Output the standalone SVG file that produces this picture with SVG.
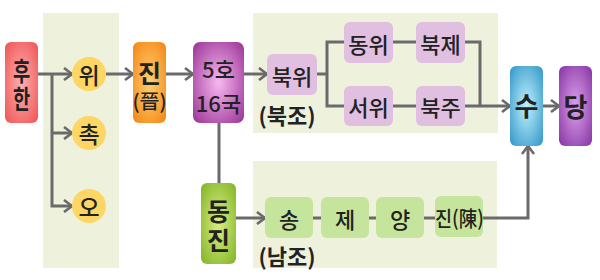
<svg xmlns="http://www.w3.org/2000/svg" width="600" height="280" viewBox="0 0 600 280">
<defs>
<style>
.t{font-family:"Noto Sans CJK KR","Noto Sans",sans-serif;fill:#222;text-anchor:middle;dominant-baseline:central;font-weight:500}
.b{font-weight:bold}
.c{fill:none;stroke:#6a6a6a;stroke-width:3}
.panel{fill:#eef2dc}
.pk{fill:#e0bfe0}
.gr{fill:#c6e59c}
.cir{fill:#fdd663}
</style>
<radialGradient id="gRed" cx="50%" cy="50%" r="65%"><stop offset="0" stop-color="#ffb0b0"/><stop offset="1" stop-color="#f05a5a"/></radialGradient>
<radialGradient id="gOr" cx="50%" cy="50%" r="65%"><stop offset="0" stop-color="#ffd070"/><stop offset="1" stop-color="#f58a1a"/></radialGradient>
<radialGradient id="gPu" cx="50%" cy="50%" r="65%"><stop offset="0" stop-color="#f8b8f0"/><stop offset="1" stop-color="#a03c9c"/></radialGradient>
<radialGradient id="gGr" cx="50%" cy="50%" r="65%"><stop offset="0" stop-color="#d8ee80"/><stop offset="1" stop-color="#88b82c"/></radialGradient>
<radialGradient id="gBl" cx="50%" cy="50%" r="65%"><stop offset="0" stop-color="#c0f0fc"/><stop offset="1" stop-color="#3a9ccc"/></radialGradient>
<radialGradient id="gVi" cx="50%" cy="50%" r="65%"><stop offset="0" stop-color="#dca0ec"/><stop offset="1" stop-color="#8c3ca8"/></radialGradient>
<marker id="ar" viewBox="0 0 10 14" refX="9" refY="7" markerWidth="10" markerHeight="14" markerUnits="userSpaceOnUse" orient="auto">
<path d="M1,1 L9,7 L1,13" fill="none" stroke="#6a6a6a" stroke-width="2.6"/>
</marker>
</defs>
<rect width="600" height="280" fill="#fff"/>
<g id="panels">
<rect class="panel" x="43" y="13" width="76" height="255"/>
<rect class="panel" x="253" y="13" width="245" height="120"/>
<rect class="panel" x="253" y="161" width="244" height="107"/>
</g>
<g id="connectors">
<path class="c" d="M38,74 H72" marker-end="url(#ar)"/>
<path class="c" d="M52,74 V206 H72" marker-end="url(#ar)"/>
<path class="c" d="M52,133 H72" marker-end="url(#ar)"/>
<path class="c" d="M106,74 H133" marker-end="url(#ar)"/>
<path class="c" d="M166,74 H193" marker-end="url(#ar)"/>
<path class="c" d="M244,74 H267" marker-end="url(#ar)"/>
<path class="c" d="M219,123 V183"/>
<path class="c" d="M236,218 H265" marker-end="url(#ar)"/>
<path class="c" d="M313,218 H321 M369,218 H376 M424,218 H435"/>
<path class="c" d="M483,218 H528 V146" marker-end="url(#ar)"/>
<path class="c" d="M317,74 H327 M344,42 H327 V106 H344"/>
<path class="c" d="M393,42 H416 M393,106 H416"/>
<path class="c" d="M465,42 H480 V106"/>
<path class="c" d="M465,106 H510" marker-end="url(#ar)"/>
<path class="c" d="M543,106 H559" marker-end="url(#ar)"/>
</g>
<g id="n-huhan"><rect x="5" y="42" width="33" height="81" rx="6" fill="url(#gRed)"/>
<text class="t b" transform="translate(21.5,0) scale(0.72,1)" font-size="26"><tspan x="0" y="70">후</tspan><tspan x="0" y="97.5">한</tspan></text></g>
<g id="n-wi"><circle class="cir" cx="89" cy="74" r="17"/><text class="t" x="89" y="74" font-size="23">위</text></g>
<g id="n-chok"><circle class="cir" cx="89" cy="133" r="17"/><text class="t" x="89" y="133" font-size="23">촉</text></g>
<g id="n-o"><circle class="cir" cx="89" cy="206" r="17"/><text class="t" x="89" y="206" font-size="23">오</text></g>
<g id="n-jin"><rect x="133" y="42" width="33" height="81" rx="6" fill="url(#gOr)"/>
<text class="t"><tspan class="b" x="149.5" y="72" font-size="25">진</tspan><tspan x="149.5" y="100" font-size="20">(晉)</tspan></text></g>
<g id="n-5ho"><rect x="193" y="42" width="51" height="81" rx="7" fill="url(#gPu)"/>
<text class="t" font-size="22"><tspan x="218.5" y="68">5호</tspan><tspan x="218.5" y="102">16국</tspan></text></g>
<g id="n-dongjin"><rect x="201" y="183" width="35" height="81" rx="6" fill="url(#gGr)"/>
<text class="t b" font-size="25"><tspan x="218.5" y="210">동</tspan><tspan x="218.5" y="239">진</tspan></text></g>
<g id="n-bukwi"><rect class="pk" x="267" y="54" width="50" height="41" rx="6"/><text class="t" x="292" y="74.5" font-size="22">북위</text></g>
<g id="n-dongwi"><rect class="pk" x="344" y="22" width="49" height="41" rx="6"/><text class="t" x="368.5" y="43" font-size="22">동위</text></g>
<g id="n-bukje"><rect class="pk" x="416" y="22" width="49" height="41" rx="6"/><text class="t" x="440.5" y="43" font-size="22">북제</text></g>
<g id="n-seowi"><rect class="pk" x="344" y="86" width="49" height="40" rx="6"/><text class="t" x="368.5" y="106" font-size="22">서위</text></g>
<g id="n-bukju"><rect class="pk" x="416" y="86" width="49" height="40" rx="6"/><text class="t" x="440.5" y="106" font-size="22">북주</text></g>
<text class="t b" x="287" y="114" font-size="22">(북조)</text>
<g id="n-song"><rect class="gr" x="265" y="197" width="48" height="41" rx="6"/><text class="t" x="289" y="217.5" font-size="22">송</text></g>
<g id="n-je"><rect class="gr" x="321" y="197" width="48" height="41" rx="6"/><text class="t" x="345" y="217.5" font-size="22">제</text></g>
<g id="n-yang"><rect class="gr" x="376" y="197" width="48" height="41" rx="6"/><text class="t" x="400" y="217.5" font-size="22">양</text></g>
<g id="n-jinchen"><rect class="gr" x="435" y="196" width="48" height="41" rx="6"/><text class="t" x="459.5" y="217" font-size="21" textLength="49" lengthAdjust="spacingAndGlyphs">진(陳)</text></g>
<text class="t b" x="287" y="255" font-size="22">(남조)</text>
<g id="n-su"><rect x="510" y="66" width="33" height="80" rx="6" fill="url(#gBl)"/><text class="t b" x="526.5" y="104" font-size="26">수</text></g>
<g id="n-dang"><rect x="559" y="66" width="33" height="80" rx="6" fill="url(#gVi)"/><text class="t b" x="575.5" y="105" font-size="26">당</text></g>
</svg>
